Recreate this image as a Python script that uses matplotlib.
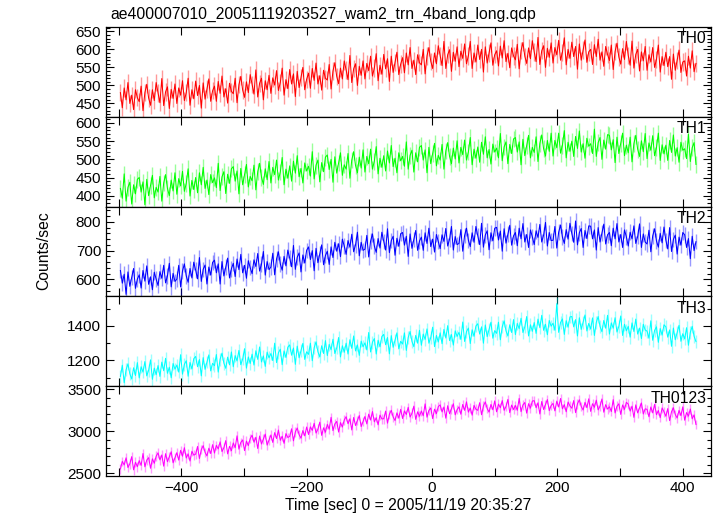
import numpy as np
import matplotlib
matplotlib.use("Agg")
import matplotlib.pyplot as plt
from matplotlib.ticker import MultipleLocator, FuncFormatter

plt.rcParams['font.family'] = ['Liberation Sans', 'DejaVu Sans']

title = "ae400007010_20051119203527_wam2_trn_4band_long.qdp"
xlabel = "Time [sec] 0 = 2005/11/19 20:35:27"
ylabel = "Counts/sec"
panel_names = ["TH0", "TH1", "TH2", "TH3", "TH0123"]
colors = ["#ff0000", "#00ff00", "#0000ff", "#00ffff", "#ff00ff"]

t_start = -497.0
t_step = 3.0

th0 = [480, 438, 493, 460, 508, 450, 473, 433, 488, 466,
       455, 498, 430, 480, 503, 465, 445, 488, 458, 508,
       479, 452, 519, 444, 482, 496, 436, 489, 464, 504,
       450, 493, 473, 513, 458, 480, 520, 445, 488, 463,
       512, 472, 500, 437, 507, 462, 490, 518, 456, 485,
       498, 456, 511, 478, 526, 468, 491, 451, 506, 484,
       477, 520, 452, 502, 525, 487, 467, 510, 480, 530,
       503, 476, 543, 468, 506, 520, 460, 513, 488, 528,
       478, 521, 501, 541, 486, 508, 548, 473, 516, 491,
       544, 504, 532, 469, 539, 494, 522, 550, 488, 517,
       534, 492, 547, 514, 562, 504, 527, 487, 542, 520,
       515, 558, 490, 540, 563, 525, 505, 548, 518, 568,
       543, 516, 583, 508, 546, 560, 500, 553, 528, 568,
       518, 561, 541, 581, 526, 548, 588, 513, 556, 531,
       586, 546, 574, 511, 581, 536, 564, 592, 530, 559,
       577, 535, 590, 557, 605, 547, 570, 530, 585, 563,
       557, 600, 532, 582, 605, 567, 547, 590, 560, 610,
       582, 555, 622, 547, 585, 599, 539, 592, 567, 607,
       552, 595, 575, 615, 560, 582, 622, 547, 590, 565,
       612, 572, 600, 537, 607, 562, 590, 618, 556, 585,
       596, 554, 609, 576, 624, 566, 589, 549, 604, 582,
       571, 614, 546, 596, 619, 581, 561, 604, 574, 624,
       593, 566, 633, 558, 596, 610, 550, 603, 578, 618,
       562, 605, 585, 625, 570, 592, 632, 557, 600, 575,
       620, 580, 608, 545, 615, 570, 598, 626, 564, 593,
       600, 558, 613, 580, 628, 570, 593, 553, 608, 586,
       569, 612, 544, 594, 617, 579, 559, 602, 572, 622,
       583, 556, 623, 548, 586, 600, 540, 593, 568, 608,
       542, 585, 565, 605, 550, 572, 612, 537, 580, 555,
       592, 552, 580, 517, 587, 542, 570, 598, 536, 565,
       568, 526, 581, 548, 596, 538, 561]

th1 = [420, 393, 460, 385, 423, 437, 377, 430, 405, 445,
       450, 410, 438, 375, 445, 400, 428, 456, 394, 423,
       410, 453, 385, 435, 458, 420, 400, 443, 413, 463,
       404, 447, 427, 467, 412, 434, 474, 399, 442, 417,
       450, 408, 463, 430, 478, 420, 443, 403, 458, 436,
       449, 422, 489, 414, 452, 466, 406, 459, 434, 474,
       480, 440, 468, 405, 475, 430, 458, 486, 424, 453,
       441, 484, 416, 466, 489, 451, 431, 474, 444, 494,
       435, 478, 458, 498, 443, 465, 505, 430, 473, 448,
       482, 440, 495, 462, 510, 452, 475, 435, 490, 468,
       481, 454, 521, 446, 484, 498, 438, 491, 466, 506,
       512, 472, 500, 437, 507, 462, 490, 518, 456, 485,
       473, 516, 448, 498, 521, 483, 463, 506, 476, 526,
       465, 508, 488, 528, 473, 495, 535, 460, 503, 478,
       510, 468, 523, 490, 538, 480, 503, 463, 518, 496,
       508, 481, 548, 473, 511, 525, 465, 518, 493, 533,
       538, 498, 526, 463, 533, 488, 516, 544, 482, 511,
       498, 541, 473, 523, 546, 508, 488, 531, 501, 551,
       490, 533, 513, 553, 498, 520, 560, 485, 528, 503,
       534, 492, 547, 514, 562, 504, 527, 487, 542, 520,
       531, 504, 571, 496, 534, 548, 488, 541, 516, 556,
       560, 520, 548, 485, 555, 510, 538, 566, 504, 533,
       519, 562, 494, 544, 567, 529, 509, 552, 522, 572,
       509, 552, 532, 572, 517, 539, 579, 504, 547, 522,
       550, 508, 563, 530, 578, 520, 543, 503, 558, 536,
       543, 516, 583, 508, 546, 560, 500, 553, 528, 568,
       566, 526, 554, 491, 561, 516, 544, 572, 510, 539,
       518, 561, 493, 543, 566, 528, 508, 551, 521, 571,
       502, 545, 525, 565, 510, 532, 572, 497, 540, 515,
       539, 497, 552, 519, 567, 509, 532, 492, 547, 525,
       529, 502, 569, 494, 532, 546, 486]

th2 = [631, 587, 618, 548, 626, 576, 607, 638, 569, 601,
       616, 570, 631, 594, 647, 583, 609, 564, 625, 601,
       579, 627, 604, 649, 588, 612, 656, 574, 621, 593,
       601, 649, 574, 629, 654, 612, 590, 638, 605, 660,
       632, 602, 676, 593, 635, 650, 584, 643, 615, 659,
       667, 623, 654, 584, 662, 612, 643, 674, 605, 637,
       656, 610, 671, 634, 687, 623, 649, 604, 665, 641,
       620, 668, 645, 690, 629, 653, 697, 615, 662, 634,
       643, 691, 616, 671, 696, 654, 632, 680, 647, 702,
       674, 644, 718, 635, 677, 692, 626, 685, 657, 701,
       713, 669, 700, 630, 708, 658, 689, 720, 651, 683,
       698, 652, 713, 676, 729, 698, 724, 679, 740, 716,
       687, 735, 712, 757, 696, 720, 764, 682, 729, 701,
       705, 753, 678, 733, 758, 716, 694, 742, 709, 764,
       732, 702, 776, 693, 735, 750, 684, 743, 715, 759,
       763, 719, 750, 680, 758, 708, 739, 770, 701, 733,
       747, 701, 762, 725, 778, 714, 740, 695, 756, 732,
       707, 755, 732, 777, 716, 740, 784, 702, 749, 721,
       725, 773, 698, 753, 778, 736, 714, 762, 729, 784,
       751, 721, 795, 712, 754, 769, 703, 762, 734, 778,
       781, 737, 768, 698, 776, 726, 757, 788, 719, 751,
       763, 717, 778, 741, 794, 730, 756, 711, 772, 748,
       721, 769, 746, 791, 730, 754, 798, 716, 763, 735,
       736, 784, 709, 764, 789, 747, 725, 773, 740, 795,
       759, 729, 803, 720, 762, 777, 711, 770, 742, 786,
       785, 741, 772, 702, 780, 730, 761, 792, 723, 755,
       763, 717, 778, 741, 794, 730, 756, 711, 772, 748,
       716, 764, 741, 786, 725, 749, 793, 711, 758, 730,
       723, 771, 696, 751, 776, 734, 712, 760, 727, 782,
       736, 706, 780, 697, 739, 754, 688, 747, 719, 763,
       755, 711, 742, 672, 750, 700, 731]

th3 = [1107, 1172, 1070, 1145, 1180, 1122, 1092, 1157, 1112, 1187,
       1098, 1163, 1132, 1193, 1110, 1143, 1203, 1090, 1155, 1117,
       1170, 1107, 1190, 1140, 1212, 1125, 1160, 1099, 1182, 1149,
       1173, 1132, 1233, 1120, 1177, 1198, 1108, 1188, 1150, 1210,
       1223, 1163, 1205, 1110, 1216, 1148, 1190, 1232, 1139, 1183,
       1169, 1234, 1132, 1207, 1242, 1184, 1154, 1219, 1174, 1249,
       1163, 1228, 1197, 1258, 1175, 1208, 1268, 1155, 1220, 1182,
       1236, 1173, 1256, 1206, 1278, 1191, 1226, 1165, 1248, 1215,
       1240, 1199, 1300, 1187, 1244, 1265, 1175, 1255, 1217, 1277,
       1290, 1230, 1272, 1177, 1283, 1215, 1257, 1299, 1206, 1250,
       1235, 1300, 1198, 1273, 1308, 1250, 1220, 1285, 1240, 1315,
       1228, 1293, 1262, 1323, 1240, 1273, 1333, 1220, 1285, 1247,
       1300, 1237, 1320, 1270, 1342, 1255, 1290, 1229, 1312, 1279,
       1302, 1261, 1362, 1249, 1306, 1327, 1237, 1317, 1279, 1339,
       1351, 1291, 1333, 1238, 1344, 1276, 1318, 1360, 1267, 1311,
       1295, 1360, 1258, 1333, 1368, 1310, 1280, 1345, 1300, 1375,
       1288, 1353, 1322, 1383, 1300, 1333, 1393, 1280, 1345, 1307,
       1360, 1297, 1380, 1330, 1402, 1315, 1350, 1289, 1372, 1339,
       1363, 1322, 1423, 1310, 1367, 1388, 1298, 1378, 1340, 1400,
       1413, 1353, 1395, 1300, 1406, 1338, 1380, 1422, 1329, 1373,
       1357, 1422, 1320, 1395, 1430, 1372, 1342, 1407, 1362, 1437,
       1350, 1415, 1384, 1445, 1362, 1395, 1455, 1342, 1407, 1369,
       1420, 1357, 1440, 1390, 1462, 1375, 1410, 1349, 1432, 1399,
       1416, 1375, 1530, 1363, 1420, 1441, 1351, 1431, 1393, 1453,
       1455, 1395, 1437, 1342, 1448, 1380, 1422, 1464, 1371, 1415,
       1382, 1447, 1345, 1420, 1455, 1397, 1367, 1432, 1387, 1462,
       1353, 1418, 1387, 1448, 1365, 1398, 1458, 1345, 1410, 1372,
       1398, 1335, 1418, 1368, 1440, 1353, 1388, 1327, 1410, 1377,
       1370, 1329, 1430, 1317, 1374, 1395, 1305, 1385, 1347, 1407,
       1395, 1335, 1377, 1282, 1388, 1320, 1362, 1404, 1311, 1355,
       1325, 1390, 1288, 1363, 1398, 1340, 1310]

th0123 = [2551, 2642, 2599, 2684, 2568, 2614, 2698, 2541, 2631, 2578,
          2651, 2594, 2735, 2577, 2657, 2686, 2560, 2672, 2619, 2703,
          2743, 2659, 2718, 2585, 2733, 2638, 2697, 2756, 2625, 2686,
          2745, 2657, 2773, 2703, 2804, 2682, 2731, 2646, 2762, 2716,
          2728, 2819, 2676, 2781, 2829, 2749, 2707, 2798, 2735, 2840,
          2741, 2832, 2789, 2874, 2758, 2804, 2888, 2731, 2821, 2768,
          2861, 2804, 2945, 2787, 2867, 2896, 2770, 2882, 2829, 2913,
          2953, 2869, 2928, 2795, 2943, 2848, 2907, 2966, 2835, 2896,
          2955, 2867, 2983, 2913, 3014, 2892, 2941, 2856, 2972, 2926,
          2938, 3029, 2886, 2991, 3039, 2959, 2917, 3008, 2945, 3050,
          2961, 3052, 3009, 3094, 2978, 3024, 3108, 2951, 3041, 2988,
          3081, 3024, 3165, 3007, 3087, 3116, 2990, 3102, 3049, 3133,
          3173, 3089, 3148, 3015, 3163, 3068, 3127, 3186, 3055, 3116,
          3175, 3087, 3203, 3133, 3234, 3112, 3161, 3076, 3192, 3146,
          3148, 3239, 3096, 3201, 3249, 3169, 3127, 3218, 3155, 3260,
          3151, 3242, 3199, 3284, 3168, 3214, 3298, 3141, 3231, 3178,
          3241, 3184, 3325, 3167, 3247, 3276, 3150, 3262, 3209, 3293,
          3313, 3229, 3288, 3155, 3303, 3208, 3267, 3326, 3195, 3256,
          3290, 3202, 3318, 3248, 3349, 3227, 3276, 3191, 3307, 3261,
          3248, 3339, 3196, 3301, 3349, 3269, 3227, 3318, 3255, 3360,
          3231, 3322, 3279, 3364, 3248, 3294, 3378, 3221, 3311, 3258,
          3306, 3249, 3390, 3232, 3312, 3341, 3215, 3327, 3274, 3358,
          3363, 3279, 3338, 3205, 3353, 3258, 3317, 3376, 3245, 3306,
          3330, 3242, 3358, 3288, 3389, 3267, 3316, 3231, 3347, 3301,
          3273, 3364, 3221, 3326, 3374, 3294, 3252, 3343, 3280, 3385,
          3236, 3327, 3284, 3369, 3253, 3299, 3383, 3226, 3316, 3263,
          3291, 3234, 3375, 3217, 3297, 3326, 3200, 3312, 3259, 3343,
          3323, 3239, 3298, 3165, 3313, 3218, 3277, 3336, 3205, 3266,
          3260, 3172, 3288, 3218, 3319, 3197, 3246, 3161, 3277, 3231,
          3178, 3269, 3126, 3231, 3279, 3199, 3157, 3248, 3185, 3290,
          3131, 3222, 3179, 3264, 3148, 3194, 3080]

errors = [24, 23, 27, 37, 57]
series = [th0, th1, th2, th3, th0123]

ylims = [(413, 662), (370, 617), (541, 853), (1050, 1572), (2468, 3535)]
ymajor = [50, 50, 100, 200, 500]
yminor = [10, 10, 20, 100, 100]
xlim = (-520, 445)

fig = plt.figure(figsize=(7.17, 5.16), dpi=100)
left, right, top, bottom = 106/717, 711/717, 1 - 27/516, 1 - 476/516
gs = fig.add_gridspec(5, 1, left=left, right=right, top=top, bottom=bottom, hspace=0)
axes = [fig.add_subplot(gs[i, 0]) for i in range(5)]

for i, ax in enumerate(axes):
    vals = np.asarray(series[i], dtype=float)
    t = t_start + t_step * np.arange(len(vals))
    ax.errorbar(t, vals, yerr=errors[i], fmt='none', ecolor=colors[i],
                elinewidth=1.0, alpha=0.4, capsize=0)
    ax.plot(t, vals, color=colors[i], lw=0.75)
    ax.set_xlim(*xlim)
    ax.set_ylim(*ylims[i])
    ax.yaxis.set_major_locator(MultipleLocator(ymajor[i]))
    ax.yaxis.set_minor_locator(MultipleLocator(yminor[i]))
    ax.xaxis.set_major_locator(MultipleLocator(100))
    ax.tick_params(which='both', direction='in', top=True, right=True,
                   labelsize=11, width=0.8)
    ax.tick_params(which='major', length=6)
    ax.tick_params(which='minor', length=3)
    for sp in ax.spines.values():
        sp.set_linewidth(0.9)
    ax.text(0.992, 0.95, panel_names[i], transform=ax.transAxes,
            ha='right', va='top', fontsize=11.3)
    if i < 4:
        ax.tick_params(labelbottom=False)
    ax.yaxis.set_major_formatter(FuncFormatter(lambda v, p: f"{int(round(v))}"))

axes[-1].xaxis.set_major_formatter(
    FuncFormatter(lambda v, p: (f"{int(round(v))}".replace('-', '\u2212')
                                if int(round(v)) % 200 == 0 else "")))
axes[-1].set_xlabel(xlabel, fontsize=11.3, labelpad=2)

fig.text(0.061, 0.515, ylabel, rotation=90, ha='center', va='center', fontsize=11.3)
fig.text(110/717, 1 - 14/516, title, ha='left', va='center', fontsize=11.3)

fig.savefig("out.png", dpi=100)
